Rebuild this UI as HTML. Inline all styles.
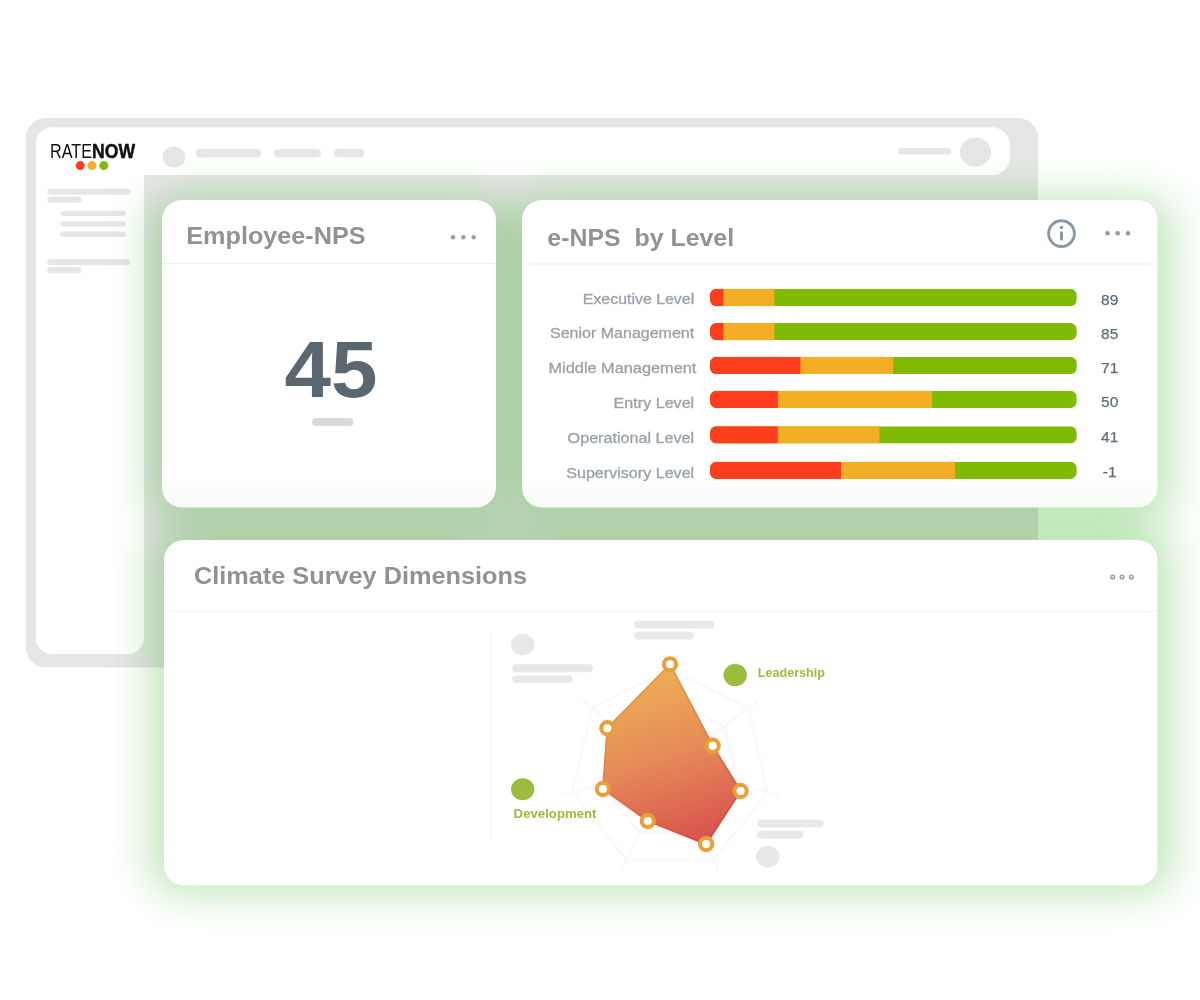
<!DOCTYPE html>
<html lang="en"><head><meta charset="utf-8"><title>RateNow Employee NPS</title>
<style>
html,body{margin:0;padding:0;background:#fff;}
body{width:1200px;height:1000px;overflow:hidden;}
svg{display:block;}
text{font-family:"Liberation Sans","DejaVu Sans",sans-serif;}
.t{font-weight:700;fill:#929292;font-size:23px;}
.lab{fill:#9aa2a8;font-size:14px;stroke:#9aa2a8;stroke-width:0.3px;}
.num{fill:#5f6b75;font-size:15.5px;text-anchor:middle;stroke:#5f6b75;stroke-width:0.25px;}
.g{fill:#e6e6e6;}
.glab{fill:#9cbc3d;font-weight:700;font-size:13px;}
</style></head><body>
<svg width="1200" height="1000" viewBox="0 0 1200 1000">
<defs>
<filter id="glow" x="-20%" y="-20%" width="140%" height="140%" color-interpolation-filters="sRGB"><feGaussianBlur stdDeviation="20"/></filter>
<linearGradient id="rad" x1="0.38" y1="0" x2="0.62" y2="1">
<stop offset="0" stop-color="#eeb056"/><stop offset="0.5" stop-color="#e58b58"/><stop offset="1" stop-color="#d9524e"/>
</linearGradient>
<linearGradient id="rads" x1="0.3" y1="0" x2="0.7" y2="1">
<stop offset="0" stop-color="#e8a13f"/><stop offset="0.55" stop-color="#e2783f"/><stop offset="1" stop-color="#d6453a"/>
</linearGradient>
<linearGradient id="cardg" x1="0" y1="0" x2="0" y2="1">
<stop offset="0" stop-color="#ffffff"/><stop offset="0.9" stop-color="#ffffff"/><stop offset="1" stop-color="#f6fbf5"/>
</linearGradient>

<clipPath id="b0"><rect x="710.0" y="288.8" width="366.8" height="17.25" rx="6.5"/></clipPath>
<clipPath id="b1"><rect x="710.0" y="323.0" width="366.8" height="17.25" rx="6.5"/></clipPath>
<clipPath id="b2"><rect x="710.0" y="356.8" width="366.8" height="17.25" rx="6.5"/></clipPath>
<clipPath id="b3"><rect x="710.0" y="390.75" width="366.8" height="17.25" rx="6.5"/></clipPath>
<clipPath id="b4"><rect x="710.0" y="426.25" width="366.8" height="17.25" rx="6.5"/></clipPath>
<clipPath id="b5"><rect x="710.0" y="461.75" width="366.8" height="17.25" rx="6.5"/></clipPath>
</defs>
<rect x="26" y="118" width="1012" height="549.5" rx="20" class="g"/>
<path d="M52,127.3 H992 A18,18 0 0 1 1010,145.3 V157 A18,18 0 0 1 992,175 H144 V638 A16,16 0 0 1 128,654 H52 A16,16 0 0 1 36,638 V143.3 A16,16 0 0 1 52,127.3 Z" fill="#fff"/>
<ellipse cx="174" cy="157" rx="11.5" ry="10.4" class="g"/>
<rect x="195.5" y="149" width="65.5" height="8.5" rx="4.25" class="g"/>
<rect x="274" y="149" width="47" height="8.5" rx="4.25" class="g"/>
<rect x="334" y="149" width="30.5" height="8.5" rx="4.25" class="g"/>
<rect x="898" y="148" width="53" height="6.5" rx="3.25" class="g"/>
<ellipse cx="975.4" cy="151.9" rx="15.7" ry="14.5" class="g"/>
<rect x="47.4" y="188.5" width="82.8" height="6.3" rx="3.15" class="g"/>
<rect x="47.4" y="196.4" width="34.2" height="6.3" rx="3.15" class="g"/>
<rect x="60.3" y="210.7" width="65.6" height="5.3" rx="2.65" class="g"/>
<rect x="60.3" y="221.2" width="65.6" height="5.3" rx="2.65" class="g"/>
<rect x="60.3" y="231.6" width="65.6" height="5.3" rx="2.65" class="g"/>
<rect x="47.4" y="259" width="82.8" height="6.3" rx="3.15" class="g"/>
<rect x="47.4" y="267" width="34.2" height="6.3" rx="3.15" class="g"/>
<text x="50" y="157.5" font-size="20" fill="#111" textLength="42" lengthAdjust="spacingAndGlyphs">RATE</text>
<text x="92" y="157.5" font-size="20" font-weight="700" fill="#111" stroke="#111" stroke-width="0.5" textLength="43" lengthAdjust="spacingAndGlyphs">NOW</text>
<circle cx="80.2" cy="165.6" r="4.5" fill="#fc3d1e"/><circle cx="92" cy="165.6" r="4.5" fill="#f3ae26"/><circle cx="103.8" cy="165.6" r="4.5" fill="#80ba05"/>
<g style="mix-blend-mode:multiply" filter="url(#glow)" fill="#c1e7bb">
<rect x="147" y="196" width="364" height="326.5" rx="35" ry="24"/>
<rect x="507" y="196" width="665.5" height="326.5" rx="35" ry="24"/>
<rect x="149" y="525" width="1023.5" height="369.5" rx="35" ry="29"/>
</g>
<rect x="162" y="200" width="334" height="307.5" rx="20" fill="url(#cardg)"/>
<rect x="522" y="200" width="635.5" height="307.5" rx="20" fill="url(#cardg)"/>
<rect x="164" y="540" width="993.5" height="345.5" rx="20" fill="#fff"/>
<rect x="162" y="263" width="334" height="1" fill="#eff1f1"/>
<rect x="522" y="263.5" width="635.5" height="1" fill="#eff1f1"/>
<rect x="164" y="610.5" width="993.5" height="1" fill="#eff1f1"/>
<text x="186.3" y="244" class="t" textLength="179.2" lengthAdjust="spacingAndGlyphs">Employee-NPS</text>
<circle cx="453" cy="237.3" r="2.2" fill="#9a9da0"/>
<circle cx="463.3" cy="237.3" r="2.2" fill="#9a9da0"/>
<circle cx="473.7" cy="237.3" r="2.2" fill="#9a9da0"/>
<text x="284.4" y="397.2" font-size="80" font-weight="700" fill="#5a6670" textLength="93" lengthAdjust="spacingAndGlyphs">45</text>
<rect x="312" y="418" width="41.5" height="8" rx="4" fill="#d9d9d9"/>
<text x="547.3" y="245.5" class="t" textLength="186.8" lengthAdjust="spacingAndGlyphs" xml:space="preserve">e-NPS  by Level</text>
<circle cx="1061.5" cy="233.6" r="12.9" fill="none" stroke="#8a98a2" stroke-width="2.9"/>
<circle cx="1061.5" cy="227.5" r="1.8" fill="#8a98a2"/><rect x="1060" y="231.3" width="3" height="9.3" rx="1.5" fill="#8a98a2"/>
<circle cx="1107.5" cy="233.3" r="2.3" fill="#8e9aa4"/>
<circle cx="1117.7" cy="233.3" r="2.3" fill="#8e9aa4"/>
<circle cx="1128" cy="233.3" r="2.3" fill="#8e9aa4"/>
<g clip-path="url(#b0)"><rect x="710.0" y="288.8" width="366.8" height="17.25" fill="#80ba05"/><rect x="710.0" y="288.8" width="64.4" height="17.25" fill="#f3ae26"/><rect x="710.0" y="288.8" width="13.4" height="17.25" fill="#fc3d1e"/></g>
<text x="582.8" y="303.8" class="lab" textLength="111.40" lengthAdjust="spacingAndGlyphs">Executive Level</text>
<text x="1109.7" y="304.5" class="num">89</text>
<g clip-path="url(#b1)"><rect x="710.0" y="323.0" width="366.8" height="17.25" fill="#80ba05"/><rect x="710.0" y="323.0" width="64.4" height="17.25" fill="#f3ae26"/><rect x="710.0" y="323.0" width="13.4" height="17.25" fill="#fc3d1e"/></g>
<text x="550.0" y="337.8" class="lab" textLength="144.20" lengthAdjust="spacingAndGlyphs">Senior Management</text>
<text x="1109.7" y="338.5" class="num">85</text>
<g clip-path="url(#b2)"><rect x="710.0" y="356.8" width="366.8" height="17.25" fill="#80ba05"/><rect x="710.0" y="356.8" width="183.2" height="17.25" fill="#f3ae26"/><rect x="710.0" y="356.8" width="90.4" height="17.25" fill="#fc3d1e"/></g>
<text x="548.5" y="373.3" class="lab" textLength="147.90" lengthAdjust="spacingAndGlyphs">Middle Management</text>
<text x="1109.7" y="373.0" class="num">71</text>
<g clip-path="url(#b3)"><rect x="710.0" y="390.75" width="366.8" height="17.25" fill="#80ba05"/><rect x="710.0" y="390.75" width="221.9" height="17.25" fill="#f3ae26"/><rect x="710.0" y="390.75" width="67.8" height="17.25" fill="#fc3d1e"/></g>
<text x="613.6" y="408.0" class="lab" textLength="80.60" lengthAdjust="spacingAndGlyphs">Entry Level</text>
<text x="1109.7" y="407.3" class="num">50</text>
<g clip-path="url(#b4)"><rect x="710.0" y="426.25" width="366.8" height="17.25" fill="#80ba05"/><rect x="710.0" y="426.25" width="169.4" height="17.25" fill="#f3ae26"/><rect x="710.0" y="426.25" width="67.8" height="17.25" fill="#fc3d1e"/></g>
<text x="567.6" y="442.5" class="lab" textLength="126.60" lengthAdjust="spacingAndGlyphs">Operational Level</text>
<text x="1109.7" y="441.6" class="num">41</text>
<g clip-path="url(#b5)"><rect x="710.0" y="461.75" width="366.8" height="17.25" fill="#80ba05"/><rect x="710.0" y="461.75" width="244.9" height="17.25" fill="#f3ae26"/><rect x="710.0" y="461.75" width="131.0" height="17.25" fill="#fc3d1e"/></g>
<text x="566.2" y="478.25" class="lab" textLength="128.00" lengthAdjust="spacingAndGlyphs">Supervisory Level</text>
<text x="1109.7" y="477.1" class="num">-1</text>
<text x="194.0" y="584" class="t" textLength="333" lengthAdjust="spacingAndGlyphs">Climate Survey Dimensions</text>
<circle cx="1112.7" cy="577" r="2" fill="#d5dade" stroke="#8a98a3" stroke-width="1.1"/>
<circle cx="1122" cy="577" r="2" fill="#d5dade" stroke="#8a98a3" stroke-width="1.1"/>
<circle cx="1131.3" cy="577" r="2" fill="#d5dade" stroke="#8a98a3" stroke-width="1.1"/>
<rect x="634.2" y="620.6" width="80.1" height="7.9" rx="3.95" fill="#e8e8e8"/>
<rect x="634.2" y="631.7" width="59.5" height="7.9" rx="3.95" fill="#e8e8e8"/>
<rect x="512.3" y="664.3" width="80.7" height="7.9" rx="3.95" fill="#e8e8e8"/>
<rect x="512.3" y="675.4" width="60.5" height="7.6" rx="3.8" fill="#e8e8e8"/>
<rect x="757.4" y="819.8" width="66.2" height="7.6" rx="3.8" fill="#e8e8e8"/>
<rect x="757.4" y="830.8" width="45.9" height="7.6" rx="3.8" fill="#e8e8e8"/>
<ellipse cx="522.7" cy="644.7" rx="11.7" ry="10.8" fill="#e8e8e8"/><ellipse cx="767.7" cy="856.7" rx="11.7" ry="10.8" fill="#e8e8e8"/>
<polygon points="670.0,730.0 701.3,745.1 709.0,778.9 687.4,806.0 652.6,806.0 631.0,778.9 638.7,745.1" fill="none" stroke="#f9f9f9" stroke-width="2.5"/>
<polygon points="670.0,700.0 724.7,726.4 738.2,785.6 700.4,833.1 639.6,833.1 601.8,785.6 615.3,726.4" fill="none" stroke="#f9f9f9" stroke-width="2.5"/>
<polygon points="670.0,670.0 748.2,707.7 767.5,792.3 713.4,860.1 626.6,860.1 572.5,792.3 591.8,707.7" fill="none" stroke="#f9f9f9" stroke-width="2.5"/>
<line x1="670" y1="770" x2="670.0" y2="658.0" stroke="#f9f9f9" stroke-width="2.5"/>
<line x1="670" y1="770" x2="757.6" y2="700.2" stroke="#f9f9f9" stroke-width="2.5"/>
<line x1="670" y1="770" x2="779.2" y2="794.9" stroke="#f9f9f9" stroke-width="2.5"/>
<line x1="670" y1="770" x2="718.6" y2="870.9" stroke="#f9f9f9" stroke-width="2.5"/>
<line x1="670" y1="770" x2="621.4" y2="870.9" stroke="#f9f9f9" stroke-width="2.5"/>
<line x1="670" y1="770" x2="560.8" y2="794.9" stroke="#f9f9f9" stroke-width="2.5"/>
<line x1="670" y1="770" x2="582.4" y2="700.2" stroke="#f9f9f9" stroke-width="2.5"/>
<rect x="490" y="632" width="1" height="208" fill="#f8f8f8"/>
<polygon points="670.0,664.3 712.7,745.7 740.6,791 706.1,844.1 647.8,821 602.9,789 607.3,728.2" fill="url(#rad)" stroke="url(#rads)" stroke-width="1.8" stroke-linejoin="round"/>
<circle cx="670.0" cy="664.3" r="6.1" fill="#fff" stroke="#e9a03a" stroke-width="4.1"/>
<circle cx="712.7" cy="745.7" r="6.1" fill="#fff" stroke="#e9a03a" stroke-width="4.1"/>
<circle cx="740.6" cy="791" r="6.1" fill="#fff" stroke="#e9a03a" stroke-width="4.1"/>
<circle cx="706.1" cy="844.1" r="6.1" fill="#fff" stroke="#e9a03a" stroke-width="4.1"/>
<circle cx="647.8" cy="821" r="6.1" fill="#fff" stroke="#e9a03a" stroke-width="4.1"/>
<circle cx="602.9" cy="789" r="6.1" fill="#fff" stroke="#e9a03a" stroke-width="4.1"/>
<circle cx="607.3" cy="728.2" r="6.1" fill="#fff" stroke="#e9a03a" stroke-width="4.1"/>
<ellipse cx="735.2" cy="675.1" rx="11.7" ry="11" fill="#9cbc3d"/><ellipse cx="522.7" cy="789.2" rx="11.7" ry="11" fill="#9cbc3d"/>
<text x="757.7" y="676.8" class="glab" textLength="67.3" lengthAdjust="spacingAndGlyphs">Leadership</text>
<text x="513.6" y="817.6" class="glab" textLength="82.9" lengthAdjust="spacingAndGlyphs">Development</text>
</svg></body></html>
